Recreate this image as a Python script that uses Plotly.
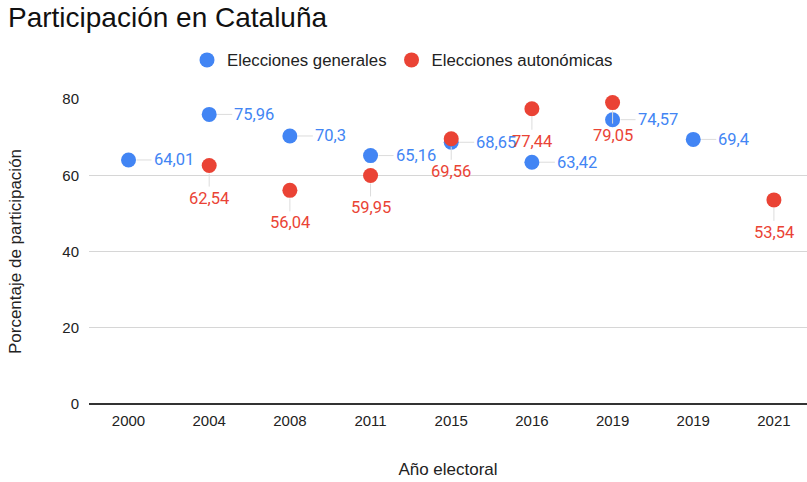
import plotly.graph_objects as go

years = ["2000", "2004", "2008", "2011", "2015", "2016", "2019", "2019", "2021"]
generales = [64.01, 75.96, 70.3, 65.16, 68.65, 63.42, 74.57, 69.4, None]
autonomicas = [None, 62.54, 56.04, 59.95, 69.56, 77.44, 79.05, None, 53.54]

BLUE = "#4285F4"
RED = "#EA4335"

xpos = list(range(len(years)))


def fmt(v):
    return f"{v:.2f}".rstrip("0").rstrip(".").replace(".", ",")


fig = go.Figure()

fig.add_trace(go.Scatter(
    x=xpos, y=generales, mode="markers", name="Elecciones generales",
    marker=dict(color=BLUE, size=15), cliponaxis=False,
))
fig.add_trace(go.Scatter(
    x=xpos, y=autonomicas, mode="markers", name="Elecciones autonómicas",
    marker=dict(color=RED, size=15), cliponaxis=False,
))

annotations = []
# blue labels: to the right with a short horizontal leader
for x, v in zip(xpos, generales):
    if v is None:
        continue
    annotations.append(dict(
        x=x, y=v, xref="x", yref="y", text=fmt(v),
        showarrow=True, arrowhead=0, arrowwidth=1, arrowcolor="#dcdcdc",
        ax=23, ay=0, xanchor="left", yanchor="middle", standoff=8,
        font=dict(family="Roboto", size=16.5, color=BLUE),
    ))
# red labels: below with a vertical leader
for x, v in zip(xpos, autonomicas):
    if v is None:
        continue
    annotations.append(dict(
        x=x, y=v, xref="x", yref="y", text=fmt(v),
        showarrow=True, arrowhead=0, arrowwidth=1, arrowcolor="#dcdcdc",
        ax=0, ay=21, xanchor="center", yanchor="top", standoff=8,
        font=dict(family="Roboto", size=16.5, color=RED),
    ))

W, H = 807, 482

fig.update_layout(
    width=W, height=H,
    margin=dict(l=89, r=0, t=99, b=78),
    paper_bgcolor="white", plot_bgcolor="white",
    font=dict(family="Liberation Sans, Arial", size=15, color="#222222"),
    title=dict(text="Participación en Cataluña", x=8 / W, xanchor="left", xref="container",
               y=1 - 17 / H, yref="container", yanchor="middle", pad=dict(l=0, t=0),
               font=dict(size=28, color="#111111")),
    legend=dict(orientation="h", x=187 / W, xanchor="left", xref="container",
                y=1 - 60 / H, yref="container", yanchor="middle",
                font=dict(size=16.8, color="#222222")),
    annotations=annotations,
    xaxis=dict(
        range=[-0.49, 8.41], tickvals=xpos, ticktext=years,
        showgrid=False, zeroline=False, showline=False, automargin=False,
        title=dict(text="Año electoral", standoff=35, font=dict(size=17)),
        ticklabelstandoff=6,
    ),
    yaxis=dict(
        range=[0, 80], tickvals=[0, 20, 40, 60, 80], automargin=False,
        gridcolor="#d6d6d6", gridwidth=1,
        zeroline=True, zerolinecolor="#333333", zerolinewidth=2,
        title=dict(text="Porcentaje de participación", standoff=36, font=dict(size=17)),
        ticklabelstandoff=9,
    ),
)

# drop the default page margin so the figure fills the window exactly
fig.write_html("out.html", config={"displayModeBar": False},
               post_script="document.body.style.margin = '0';")
